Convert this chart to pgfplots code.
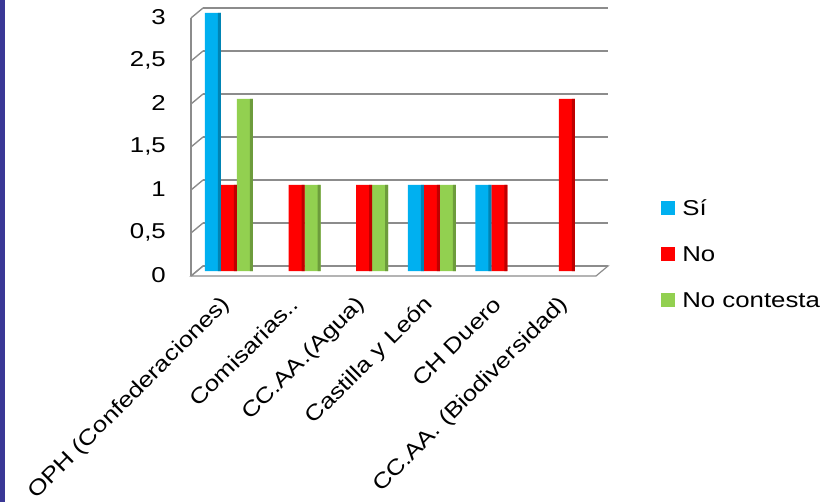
\documentclass[border=0pt]{standalone}
\usepackage{fontspec}
\setmainfont{Liberation Sans}[FakeStretch=1.2]
\usepackage{pgfplots}
\pgfplotsset{compat=1.18}
\definecolor{csi}{HTML}{00B0F0}
\definecolor{cno}{HTML}{FF0000}
\definecolor{cnc}{HTML}{92D050}
\definecolor{cgrid}{HTML}{8C8C8C}
\definecolor{cstrip}{RGB}{58,56,150}
\begin{document}
\begin{tikzpicture}
\useasboundingbox (0,0) rectangle (836bp,502bp);
\fill[cstrip] (0,0) rectangle (5bp,502bp);
\begin{axis}[
  at={(197bp,231bp)}, anchor=south west,
  scale only axis, width=405bp, height=258bp,
  xmin=-0.473, xmax=5.518, ymin=0, ymax=3,
  clip=false,
  axis line style={draw=none},
  major tick length=0pt,
  font=\fontsize{21.5bp}{25bp}\selectfont,
  /pgf/number format/use comma,
  /pgf/number format/assume math mode=true,
  ytick={0,0.5,1,1.5,2,2.5,3},
  yticklabel style={anchor=east, inner sep=0pt, xshift=-31bp, yshift=-4bp},
  xtick={0,1,2,3,4,5},
  xticklabels={OPH (Confederaciones), Comisarias.., CC.AA.(Agua), Castilla y León, CH Duero, CC.AA. (Biodiversidad)},
  xticklabel style={xshift=-2bp, yshift=-30bp, rotate=45, anchor=east, inner sep=0pt},
  ybar, bar width=16bp,
  legend style={draw=none, fill=none, at={(1.146,0.2725)}, anchor=north west, inner sep=0pt, row sep=31bp,
    nodes={inner sep=0pt, text height=15bp, text depth=0pt}},
  legend cell align=left,
  legend image code/.code={\fill[#1] (0bp,-7bp) rectangle (14bp,7bp); \path (21bp,0bp);},
]
\draw[cgrid, line width=1.2bp, fill=white]
  ([xshift=-6bp,yshift=-5bp]rel axis cs:0,0) -- ([xshift=-6bp,yshift=-5bp]rel axis cs:1,0)
  -- ([xshift=6bp,yshift=5bp]rel axis cs:1,0) -- ([xshift=6bp,yshift=5bp]rel axis cs:0,0) -- cycle;
\draw[cgrid, line width=1.4bp] ([xshift=-6bp,yshift=-5bp]rel axis cs:0,0) -- ([xshift=-6bp,yshift=-5bp]rel axis cs:0,1);
\pgfplotsinvokeforeach{0,0.5,1,1.5,2,2.5,3}{
  \draw[cgrid, line width=1.7bp] ([xshift=6bp,yshift=5bp]axis cs:-0.473,#1) -- ([xshift=6bp,yshift=5bp]axis cs:5.518,#1);
  \draw[cgrid, line width=1.4bp] ([xshift=-6bp,yshift=-5bp]axis cs:-0.473,#1) -- ([xshift=6bp,yshift=5bp]axis cs:-0.473,#1);
}
\addplot[fill=csi, draw=none, bar shift=-16bp] coordinates {(0,3) (3,1) (4,1)};
\addplot[fill=cno, draw=none, bar shift=0bp] coordinates {(0,1) (1,1) (2,1) (3,1) (4,1) (5,2)};
\addplot[fill=cnc, draw=none, bar shift=16bp] coordinates {(0,2) (1,1) (2,1) (3,1)};
\legend{Sí, No, No contesta}
\addplot[fill=csi!75!black, draw=none, bar width=3bp, bar shift=-9.5bp, forget plot] coordinates {(0,3) (3,1) (4,1)};
\addplot[fill=cno!75!black, draw=none, bar width=3bp, bar shift=6.5bp, forget plot] coordinates {(0,1) (1,1) (2,1) (3,1) (4,1) (5,2)};
\addplot[fill=cnc!75!black, draw=none, bar width=3bp, bar shift=22.5bp, forget plot] coordinates {(0,2) (1,1) (2,1) (3,1)};
\end{axis}
\end{tikzpicture}
\end{document}
